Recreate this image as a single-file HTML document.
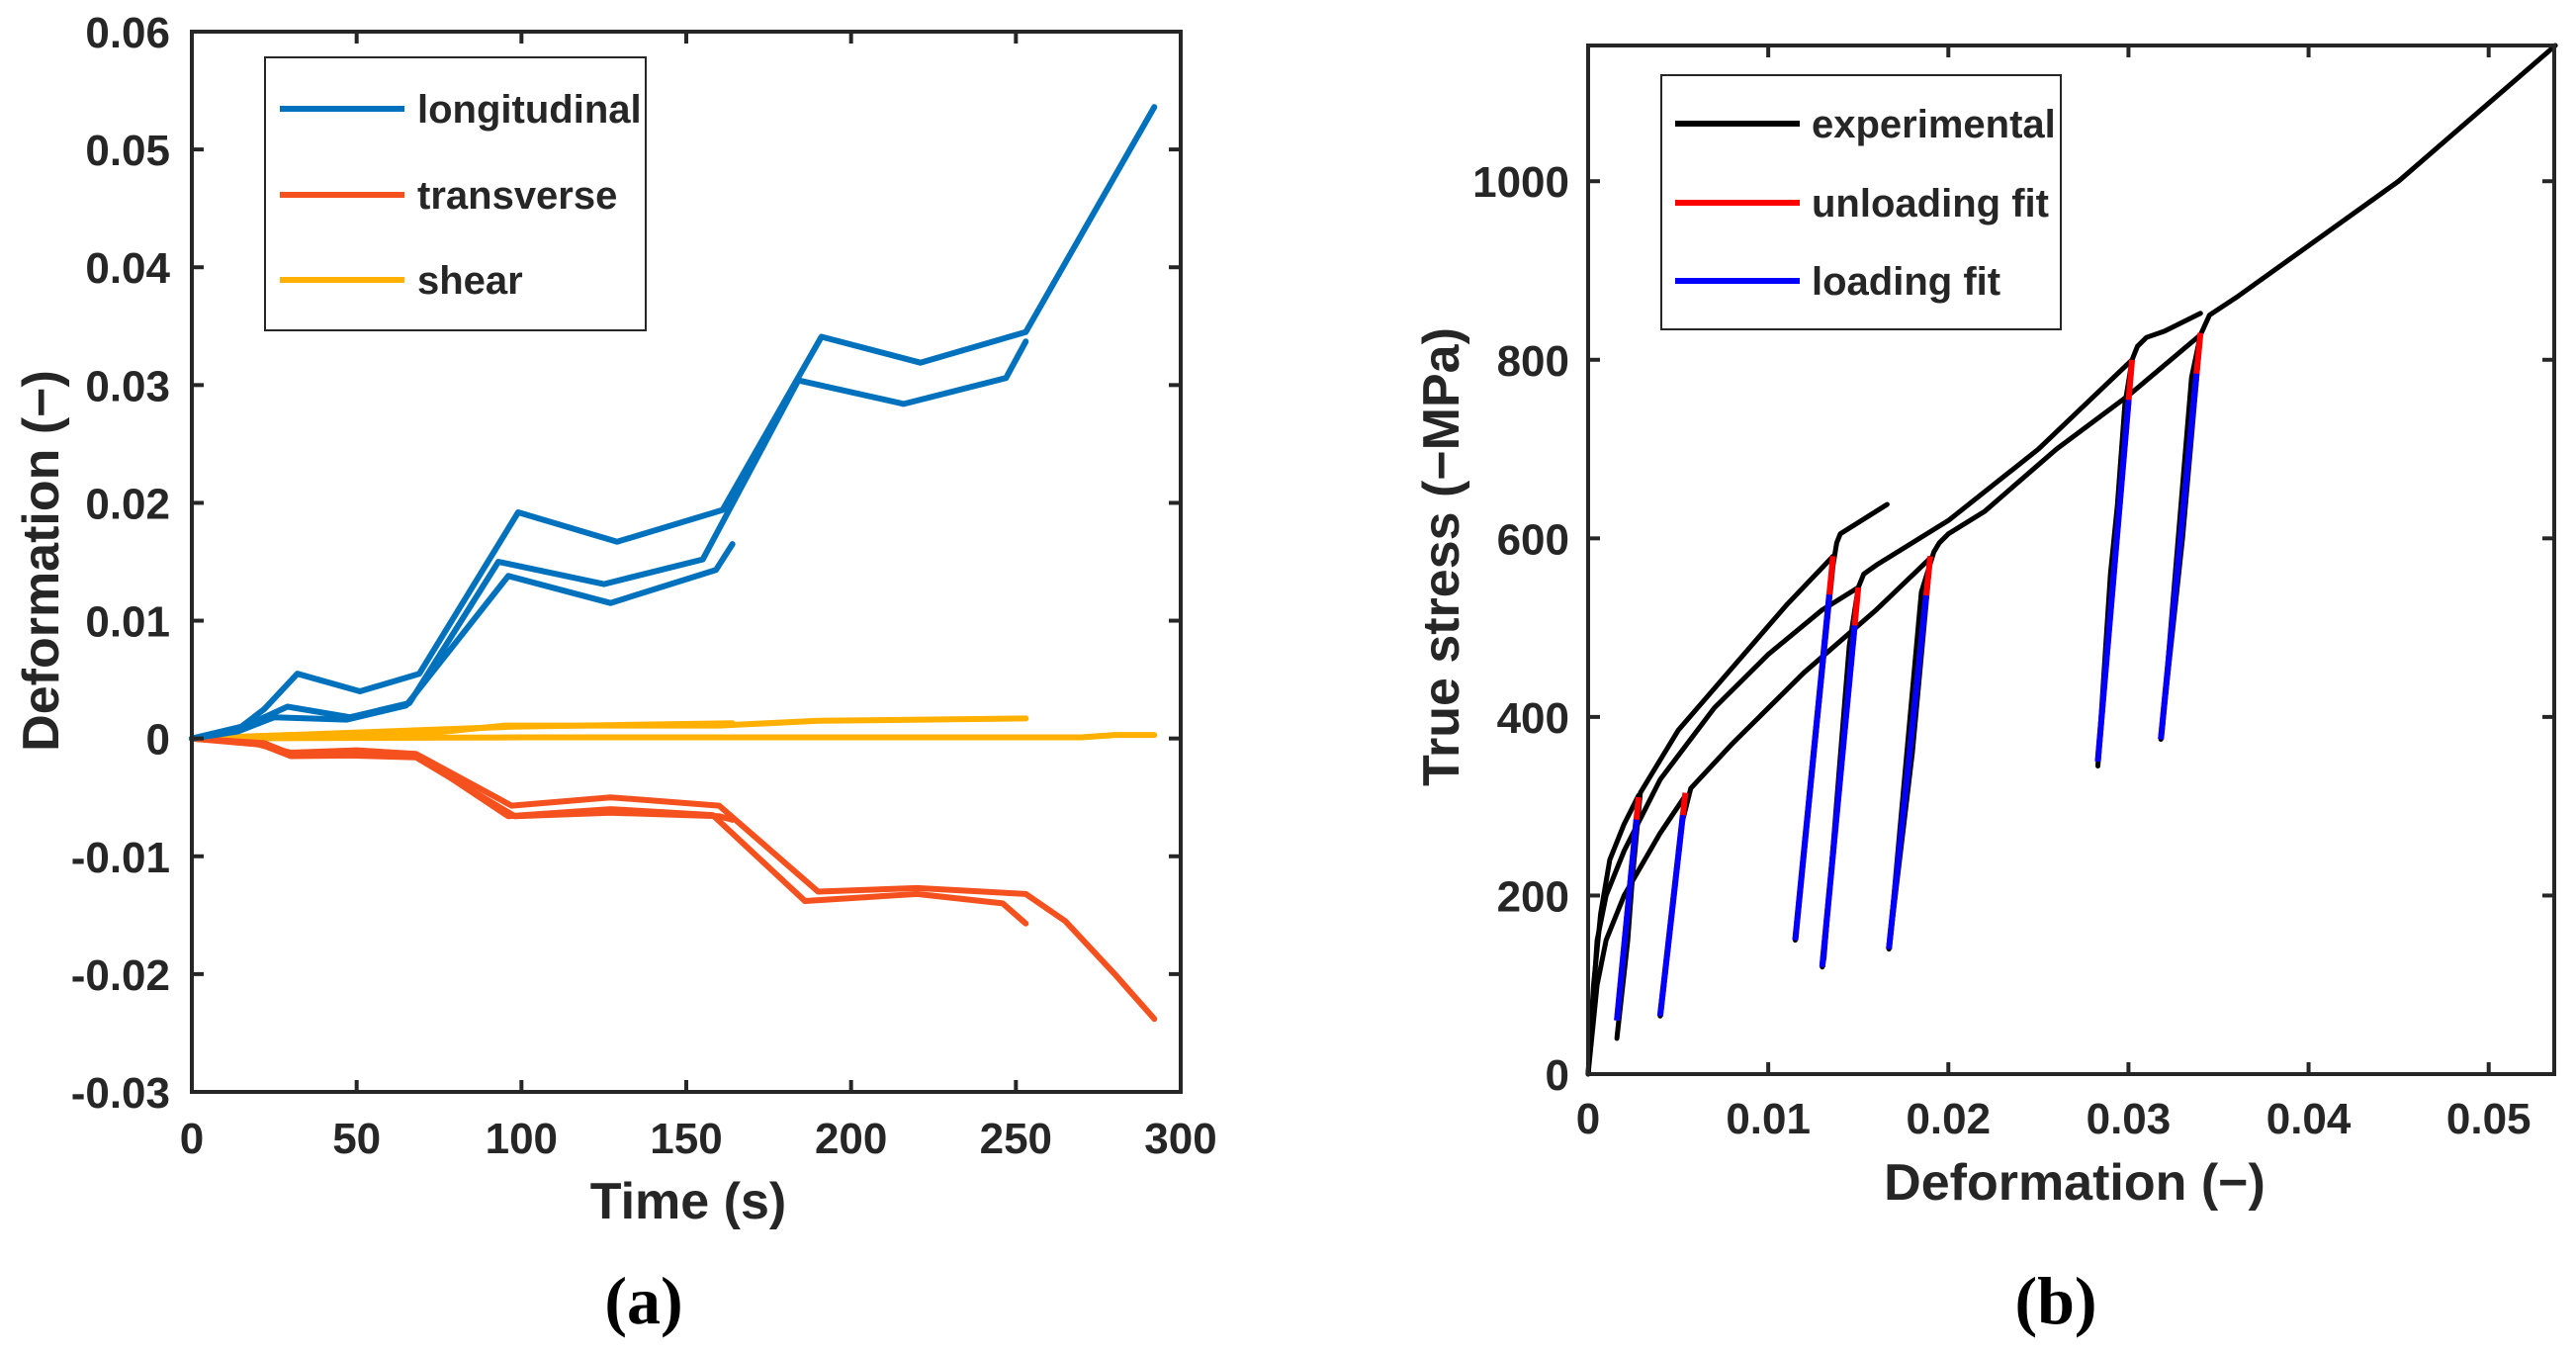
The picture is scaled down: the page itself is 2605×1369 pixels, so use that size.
<!DOCTYPE html>
<html><head><meta charset="utf-8"><style>
html,body{margin:0;padding:0;background:#fff}
svg{display:block}
text{font-family:"Liberation Sans",sans-serif;font-weight:bold;fill:#262626}
</style></head><body>
<svg id="fig" width="2605" height="1369" viewBox="0 0 2605 1369" xmlns="http://www.w3.org/2000/svg"></svg>
<script>
// ---------- Chart (a) data ----------
const aXTicks=[0,50,100,150,200,250,300];
const aYTicks=[-0.03,-0.02,-0.01,0,0.01,0.02,0.03,0.04,0.05,0.06];
const aYTickLabels=["-0.03","-0.02","-0.01","0","0.01","0.02","0.03","0.04","0.05","0.06"];
const long1T=[0,15,22,32,51,69,99,129,161,191,221,253,292];
const long1V=[0,0.001,0.0025,0.0055,0.0040,0.0055,0.0192,0.0167,0.0194,0.0341,0.0319,0.0345,0.0536];
const long2T=[0,15,22,29,48,66,93,125,155,184,216,247,253];
const long2V=[0,0.0008,0.0018,0.0027,0.0018,0.003,0.015,0.0131,0.0152,0.0304,0.0284,0.0306,0.0337];
const long3T=[0,14,25,47,65,96,127,159,164];
const long3V=[0,0.0006,0.0018,0.0016,0.0028,0.0138,0.0115,0.0143,0.0165];
const tran1T=[0,20,30,50,68,97,127,160,190,220,253,265,280,292];
const tran1V=[0,-0.0005,-0.0012,-0.0010,-0.0013,-0.0057,-0.0050,-0.0057,-0.0130,-0.0127,-0.0132,-0.0155,-0.0200,-0.0238];
const tran2T=[0,20,30,68,96,127,158,186,220,246,253];
const tran2V=[0,-0.0004,-0.0015,-0.0014,-0.0066,-0.0060,-0.0065,-0.0138,-0.0132,-0.0140,-0.0157];
const tran3T=[0,22,30,68,98,127,160,164];
const tran3V=[0,-0.0004,-0.0013,-0.0016,-0.0066,-0.0063,-0.0066,-0.0069];
const shear1T=[0,30,70,95,160,190,253];
const shear1V=[0,0.0003,0.0004,0.0011,0.0011,0.0015,0.0017];
const shear2T=[0,30,97,164];
const shear2V=[0,0.0003,0.0010,0.0013];
const shear3T=[0,100,270,280,292];
const shear3V=[0,0.0001,0.0001,0.0003,0.0003];
// ---------- Chart (b) data ----------
const bXTicks=[0,0.01,0.02,0.03,0.04,0.05];
const bXTickLabels=["0","0.01","0.02","0.03","0.04","0.05"];
const bYTicks=[0,200,400,600,800,1000];
const expAx=[0,0.0003,0.0007,0.0012,0.002,0.0028,0.0022,0.0016,0.0017,0.0026,0.0029,0.0035,0.005,0.008,0.011,0.0136,0.0125,0.0115,0.0116,0.0130,0.0136,0.0138,0.014,0.0166];
const expAy=[0,100,180,240,280,312,150,40,60,250,315,335,385,455,525,580,360,150,170,450,570,595,605,638];
const expBx=[0,0.0005,0.001,0.002,0.004,0.007,0.010,0.013,0.0150,0.014,0.0130,0.0131,0.0145,0.0150,0.0153,0.016,0.020,0.025,0.0302,0.029,0.0283,0.0284,0.0298,0.0302,0.0305,0.031,0.032,0.034];
const expBy=[0,150,200,250,330,410,470,520,545,330,120,130,480,545,560,570,620,700,800,560,345,370,750,800,815,825,832,852];
const expCx=[0,0.0005,0.001,0.002,0.004,0.0054,0.0047,0.0040,0.0041,0.0052,0.0057,0.008,0.012,0.016,0.019,0.018,0.0167,0.0168,0.0185,0.0192,0.0195,0.020,0.022,0.026,0.030,0.034,0.033,0.0318,0.0319,0.0335,0.0340,0.0345,0.036,0.045,0.0537];
const expCy=[0,100,150,200,270,312,190,65,80,280,320,370,450,520,578,360,140,160,540,585,595,605,630,700,760,828,600,375,390,780,828,850,870,1000,1152];
const unTopX=[0.0028,0.0054,0.0136,0.0150,0.0190,0.0302,0.0340];
const unTopY=[310,315,580,545,580,800,830];
const unBotX=[0.0016,0.0040,0.0115,0.0130,0.0167,0.0283,0.0318];
const unBotY=[60,65,150,120,140,350,375];

const NS="http://www.w3.org/2000/svg";
const svg=document.getElementById('fig');
function mk(tag,attrs,parent){const e=document.createElementNS(NS,tag);for(const k in attrs)e.setAttribute(k,attrs[k]);(parent||svg).appendChild(e);return e;}
function txt(s,attrs,parent){const e=mk('text',attrs,parent);e.textContent=s;return e;}

const aX0=194,aX1=1194,aY0=1104,aY1=32;
const ax=t=>aX0+t/300*(aX1-aX0);
const ay=v=>aY0-(v+0.03)/0.09*(aY0-aY1);
const bX0=1606,bX1=2583,bY0=1086,bY1=46;
const bXmax=0.05364,bYmax=1152;
const bx=d=>bX0+d/bXmax*(bX1-bX0);
const by=s=>bY0-s/bYmax*(bY0-bY1);

function line(xs,ys,fx,fy,color,w,name){
  const p=xs.map((x,i)=>fx(x).toFixed(1)+','+fy(ys[i]).toFixed(1)).join(' ');
  const e=mk('polyline',{points:p,fill:'none',stroke:color,'stroke-width':w,'stroke-linejoin':'round','stroke-linecap':'round'});
  
  
  return e;
}

// ---- Panel (a) ----
const BL='#0072BD',OR='#F4511E',YE='#FFB000';
line(shear3T,shear3V,ax,ay,YE,6,'shear-series-3');
line(shear2T,shear2V,ax,ay,YE,6,'shear-series-2');
line(shear1T,shear1V,ax,ay,YE,6,'shear-series-1');
line(tran3T,tran3V,ax,ay,OR,6,'transverse-series-3');
line(tran2T,tran2V,ax,ay,OR,6,'transverse-series-2');
line(tran1T,tran1V,ax,ay,OR,6,'transverse-series-1');
line(long3T,long3V,ax,ay,BL,6,'longitudinal-series-3');
line(long2T,long2V,ax,ay,BL,6,'longitudinal-series-2');
line(long1T,long1V,ax,ay,BL,6,'longitudinal-series-1');
const fa=mk('rect',{x:aX0,y:aY1,width:aX1-aX0,height:aY0-aY1,fill:'none',stroke:'#262626','stroke-width':4});


aXTicks.forEach(t=>{
  mk('line',{x1:ax(t),x2:ax(t),y1:aY0,y2:aY0-12,stroke:'#262626','stroke-width':4});
  mk('line',{x1:ax(t),x2:ax(t),y1:aY1,y2:aY1+12,stroke:'#262626','stroke-width':4});
  const e=txt(String(t),{x:ax(t),y:1166,'font-size':44,'text-anchor':'middle'});
  
  
});
aYTicks.forEach((v,i)=>{
  mk('line',{x1:aX0,x2:aX0+12,y1:ay(v),y2:ay(v),stroke:'#262626','stroke-width':4});
  mk('line',{x1:aX1,x2:aX1-12,y1:ay(v),y2:ay(v),stroke:'#262626','stroke-width':4});
  const e=txt(aYTickLabels[i],{x:172,y:ay(v)+16,'font-size':44,'text-anchor':'end'});
  
  
});
let t1=txt('Time (s)',{x:696,y:1232,'font-size':52,'text-anchor':'middle'});


let t2=txt('Deformation (\u2212)',{x:0,y:0,'font-size':52,'text-anchor':'middle',transform:'translate(59,567) rotate(-90)'});


let la=mk('rect',{x:268,y:58,width:385,height:276,fill:'#fff',stroke:'#262626','stroke-width':2});


[['longitudinal',BL,110],['transverse',OR,197],['shear',YE,283]].forEach(([n,c,y])=>{
  mk('line',{x1:283,x2:409,y1:y,y2:y,stroke:c,'stroke-width':6});
  const e=txt(n,{x:422,y:y+14,'font-size':40});
  
  
});
let pa=txt('(a)',{x:651,y:1338,'font-size':68,'text-anchor':'middle',style:'font-family:"Liberation Serif",serif;fill:#000'});



// ---- Panel (b) ----
line(expAx,expAy,bx,by,'#000',5,'experimental-curve-1');
line(expBx,expBy,bx,by,'#000',5,'experimental-curve-2');
line(expCx,expCy,bx,by,'#000',5,'experimental-curve-3');
unTopX.forEach((x,i)=>{
  const r=mk('line',{x1:bx(x),y1:by(unTopY[i]),x2:bx(unBotX[i]),y2:by(unBotY[i]),stroke:'#FF0000','stroke-width':6});
  
  
  const f=0.1;
  const mx=x+(unBotX[i]-x)*f, my=unTopY[i]+(unBotY[i]-unTopY[i])*f;
  const b=mk('line',{x1:bx(mx),y1:by(my),x2:bx(unBotX[i]),y2:by(unBotY[i]),stroke:'#0000FF','stroke-width':6});
  
  
});
const fb=mk('rect',{x:bX0,y:bY1,width:bX1-bX0,height:bY0-bY1,fill:'none',stroke:'#262626','stroke-width':4});


bXTicks.forEach((d,i)=>{
  mk('line',{x1:bx(d),x2:bx(d),y1:bY0,y2:bY0-12,stroke:'#262626','stroke-width':4});
  mk('line',{x1:bx(d),x2:bx(d),y1:bY1,y2:bY1+12,stroke:'#262626','stroke-width':4});
  const e=txt(bXTickLabels[i],{x:bx(d),y:1146,'font-size':44,'text-anchor':'middle'});
  
  
});
bYTicks.forEach(s=>{
  mk('line',{x1:bX0,x2:bX0+12,y1:by(s),y2:by(s),stroke:'#262626','stroke-width':4});
  mk('line',{x1:bX1,x2:bX1-12,y1:by(s),y2:by(s),stroke:'#262626','stroke-width':4});
  const e=txt(String(s),{x:1587,y:by(s)+16,'font-size':44,'text-anchor':'end'});
  
  
});
let t3=txt('Deformation (\u2212)',{x:2098,y:1213,'font-size':52,'text-anchor':'middle'});


let t4=txt('True stress (\u2212MPa)',{x:0,y:0,'font-size':52,'text-anchor':'middle',transform:'translate(1475,563) rotate(-90)'});


let lb=mk('rect',{x:1680,y:76,width:404,height:257,fill:'#fff',stroke:'#262626','stroke-width':2});


[['experimental','#000',125],['unloading fit','#FF0000',205],['loading fit','#0000FF',284]].forEach(([n,c,y])=>{
  mk('line',{x1:1694,x2:1820,y1:y,y2:y,stroke:c,'stroke-width':6});
  const e=txt(n,{x:1832,y:y+14,'font-size':40});
  
  
});
let pb=txt('(b)',{x:2079,y:1338,'font-size':68,'text-anchor':'middle',style:'font-family:"Liberation Serif",serif;fill:#000'});


</script>
</body></html>
